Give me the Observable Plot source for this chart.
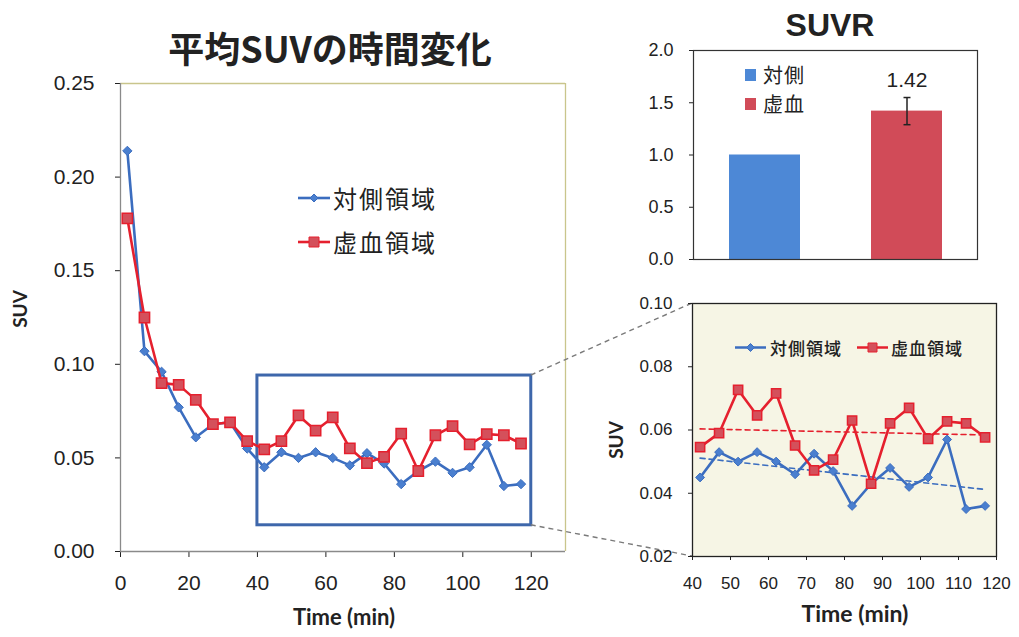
<!DOCTYPE html>
<html><head><meta charset="utf-8">
<script src="https://cdn.jsdelivr.net/npm/d3@7"></script>
<script src="https://cdn.jsdelivr.net/npm/@observablehq/plot@0.6"></script>
<style>
body{margin:0;background:#fff;}
#root{position:relative;width:1019px;height:637px;overflow:hidden;background:#fff;font-family:"Liberation Sans",Arial,sans-serif;color:#222;}
.abs{position:absolute;white-space:nowrap;line-height:1;}
.cjk{font-family:"Noto Sans CJK JP",sans-serif;}
.lab{font-family:Lato,"Open Sans",sans-serif;font-weight:700;}
</style></head><body><div id="root"></div>
<script>
// ---- data ----
const times = [2, 7, 12, 17, 22, 27, 32, 37, 42, 47, 52, 57, 62, 67, 72, 77, 82, 87, 92, 97, 102, 107, 112, 117];
const contraSUV = [0.214, 0.107, 0.096, 0.077, 0.061, 0.068, 0.069, 0.055, 0.045, 0.053, 0.050, 0.053, 0.050, 0.046, 0.0525, 0.047, 0.036, 0.043, 0.048, 0.042, 0.045, 0.057, 0.035, 0.036];
const ischSUV  = [0.178, 0.125, 0.090, 0.089, 0.081, 0.068, 0.069, 0.059, 0.0546, 0.059, 0.0727, 0.0646, 0.0716, 0.0551, 0.0472, 0.0506, 0.063, 0.043, 0.0621, 0.067, 0.0572, 0.0627, 0.0621, 0.0577];
const seriesNames = ["対側領域", "虚血領域"];
const leftXTicks = [0, 20, 40, 60, 80, 100, 120];
const leftYTicks = [0, 0.05, 0.10, 0.15, 0.20, 0.25];
const zoomX = [40, 120];
const zoomY = [0.014, 0.094];
const rightXTicks = [40, 50, 60, 70, 80, 90, 100, 110, 120];
const rightYTicks = [0.02, 0.04, 0.06, 0.08, 0.10];
const suvrCats = ["対側", "虚血"];
const suvrValues = [1.0, 1.42];
const suvrErrLo = [null, 1.29];
const suvrErrHi = [null, 1.55];
const suvrYTicks = [0, 0.5, 1.0, 1.5, 2.0];

// ---- styles ----
const W = 1019, H = 637;
const blueLine = "#3b6dbf", blueFill = "#4a7fcf";
const redLine = "#e5202e", redFill = "#d4505b";
const barBlue = "#4d88d6", barRed = "#d14b58";
const root = document.getElementById("root");
const baseStyle = {position: "absolute", left: "0px", top: "0px", background: "transparent", overflow: "visible", fontFamily: "'Liberation Sans', Arial, sans-serif", color: "#222"};

const rows = times.map((t, i) => ({t, contra: contraSUV[i], isch: ischSUV[i]}));
const rowsZoom = rows.filter(d => d.t >= zoomX[0]);

// ---- left chart ----
const leftPlot = Plot.plot({
  width: W, height: H,
  marginLeft: 120, marginRight: W - 565, marginTop: 83, marginBottom: H - 551,
  style: {...baseStyle, fontSize: "21px"},
  x: {domain: [0, 130], ticks: leftXTicks, tickSize: 6, tickPadding: 18, label: null},
  y: {domain: [0, 0.25], ticks: leftYTicks, tickFormat: d3.format(".2f"), tickSize: 5, tickPadding: 21, label: null},
  marks: [
    Plot.ruleY([0.25], {stroke: "#c9c58c", strokeWidth: 1.3}),
    Plot.ruleX([130], {stroke: "#c9c58c", strokeWidth: 1.3}),
    Plot.ruleX([0], {stroke: "#8a8a8a", strokeWidth: 1.3}),
    Plot.ruleY([0], {stroke: "#8a8a8a", strokeWidth: 1.3}),
    Plot.rect([{x1: zoomX[0], x2: zoomX[1], y1: zoomY[0], y2: zoomY[1]}], {x1: "x1", x2: "x2", y1: "y1", y2: "y2", fill: "none", stroke: "#3e67ab", strokeWidth: 3}),
    Plot.line(rows, {x: "t", y: "contra", stroke: blueLine, strokeWidth: 2.6}),
    Plot.dot(rows, {x: "t", y: "contra", symbol: "diamond2", r: 4.2, fill: blueFill, stroke: blueLine, strokeWidth: 1}),
    Plot.line(rows, {x: "t", y: "isch", stroke: redLine, strokeWidth: 2.6}),
    Plot.dot(rows, {x: "t", y: "isch", symbol: "square", r: 5.8, fill: redFill, stroke: redLine, strokeWidth: 1.5})
  ]
});
root.appendChild(leftPlot);

// ---- SUVR bar chart ----
const suvrRows = suvrCats.map((c, i) => ({cat: c, value: suvrValues[i], lo: suvrErrLo[i], hi: suvrErrHi[i], color: i === 0 ? barBlue : barRed}));
const errRows = suvrRows.filter(d => d.lo != null);
const caps = errRows.flatMap(d => [{cat: d.cat, v: d.lo}, {cat: d.cat, v: d.hi}]);
const capSymbol = {draw(ctx, size) { const w = Math.sqrt(size / Math.PI); ctx.moveTo(-w, 0); ctx.lineTo(w, 0); }};
const barPlot = Plot.plot({
  width: W, height: H,
  marginLeft: 693, marginRight: W - 977, marginTop: 50, marginBottom: H - 259,
  style: {...baseStyle, fontSize: "18px"},
  x: {type: "band", domain: suvrCats, paddingInner: 0.5, paddingOuter: 0.25, axis: null},
  y: {domain: [0, 2], ticks: suvrYTicks, tickFormat: d3.format(".1f"), tickSize: 4, tickPadding: 16, label: null},
  color: {type: "identity"},
  marks: [
    Plot.barY(suvrRows, {x: "cat", y: "value", fill: "color"}),
    Plot.frame({stroke: "#333", strokeWidth: 1.2}),
    Plot.ruleX(errRows, {x: "cat", y1: "lo", y2: "hi", stroke: "#222", strokeWidth: 1.5}),
    Plot.dot(caps, {x: "cat", y: "v", symbol: capSymbol, r: 3.5, stroke: "#222", strokeWidth: 1.5, fill: "none"}),
    Plot.text(errRows, {x: "cat", y: "hi", text: d => d.value.toFixed(2), dy: -17, fontSize: 21, fill: "#222"})
  ]
});
root.appendChild(barPlot);

// ---- right zoomed chart ----
const rightPlot = Plot.plot({
  width: W, height: H,
  marginLeft: 692, marginRight: W - 996, marginTop: 303, marginBottom: H - 556,
  style: {...baseStyle, fontSize: "17px"},
  x: {domain: [40, 120], ticks: rightXTicks, tickSize: 4, tickPadding: 16, label: null},
  y: {domain: [0.02, 0.10], ticks: rightYTicks, tickFormat: d3.format(".2f"), tickSize: 4, tickPadding: 16, label: null},
  marks: [
    Plot.frame({fill: "#f6f5e5", stroke: "#222", strokeWidth: 1.3}),
    Plot.linearRegressionY(rowsZoom, {x: "t", y: "isch", stroke: redLine, strokeWidth: 1.6, strokeDasharray: "5,4", ci: 0}),
    Plot.linearRegressionY(rowsZoom, {x: "t", y: "contra", stroke: blueLine, strokeWidth: 1.6, strokeDasharray: "5,4", ci: 0}),
    Plot.line(rowsZoom, {x: "t", y: "contra", stroke: blueLine, strokeWidth: 2.6}),
    Plot.dot(rowsZoom, {x: "t", y: "contra", symbol: "diamond2", r: 4, fill: blueFill, stroke: blueLine, strokeWidth: 1}),
    Plot.line(rowsZoom, {x: "t", y: "isch", stroke: redLine, strokeWidth: 2.6}),
    Plot.dot(rowsZoom, {x: "t", y: "isch", symbol: "square", r: 5.2, fill: redFill, stroke: redLine, strokeWidth: 1.5})
  ]
});

// ---- connectors (from scales) ----
function mapper(s) {
  if (s && typeof s.apply === "function") return v => s.apply(v);
  return v => s.range[0] + (v - s.domain[0]) / (s.domain[1] - s.domain[0]) * (s.range[1] - s.range[0]);
}
const lx = mapper(leftPlot.scale("x")), ly = mapper(leftPlot.scale("y"));
const rx = mapper(rightPlot.scale("x")), ry = mapper(rightPlot.scale("y"));
const conn = d3.create("svg").attr("width", W).attr("height", H)
  .style("position", "absolute").style("left", "0px").style("top", "0px");
const rYd = rightPlot.scale("y").domain;
[[zoomY[1], rYd[1]], [zoomY[0], rYd[0]]].forEach(([a, b]) => {
  conn.append("line")
    .attr("x1", lx(zoomX[1])).attr("y1", ly(a))
    .attr("x2", rx(zoomX[0])).attr("y2", ry(b))
    .attr("stroke", "#7a7a7a").attr("stroke-width", 1.4).attr("stroke-dasharray", "5,4");
});
root.appendChild(conn.node());
root.appendChild(rightPlot);

// ---- texts ----
function addText(txt, x, y, cls, css, rotate) {
  const d = document.createElement("div");
  d.className = "abs " + cls;
  d.textContent = txt;
  d.style.left = x + "px"; d.style.top = y + "px";
  d.style.transform = "translate(-50%,-50%)" + (rotate ? " rotate(-90deg)" : "");
  Object.assign(d.style, css);
  root.appendChild(d);
}
addText("平均SUVの時間変化", 330, 47, "cjk", {fontSize: "36px", fontWeight: "700"});
addText("SUVR", 830, 25, "", {fontSize: "32px", fontWeight: "700"});
addText("SUV", 19, 309, "lab", {fontSize: "19px"}, true);
addText("Time (min)", 344, 617, "lab", {fontSize: "22px"});
addText("SUV", 615, 440, "lab", {fontSize: "19px"}, true);
addText("Time (min)", 855, 613, "lab", {fontSize: "23px"});

// ---- legends ----
function swatchLine(kind, color, fill, lineW, size) {
  const ns = "http://www.w3.org/2000/svg";
  const s = document.createElementNS(ns, "svg");
  s.setAttribute("width", lineW); s.setAttribute("height", 14);
  s.style.display = "block";
  const l = document.createElementNS(ns, "line");
  l.setAttribute("x1", 0); l.setAttribute("x2", lineW); l.setAttribute("y1", 7); l.setAttribute("y2", 7);
  l.setAttribute("stroke", color); l.setAttribute("stroke-width", 2.6);
  s.appendChild(l);
  const p = document.createElementNS(ns, "path");
  const c = lineW / 2;
  if (kind === "diamond") p.setAttribute("d", `M${c},${7 - size}L${c + size},7L${c},${7 + size}L${c - size},7Z`);
  else p.setAttribute("d", `M${c - size},${7 - size}h${2 * size}v${2 * size}h${-2 * size}Z`);
  p.setAttribute("fill", fill); p.setAttribute("stroke", color);
  s.appendChild(p);
  return s;
}
function legendItem(x, y, swatch, label, fontSize, gap, weight, spacing) {
  const d = document.createElement("div");
  d.className = "abs cjk";
  d.style.left = x + "px"; d.style.top = y + "px";
  d.style.transform = "translateY(-50%)";
  d.style.display = "flex"; d.style.alignItems = "center";
  d.style.fontSize = fontSize + "px";
  if (weight) d.style.fontWeight = weight;
  d.appendChild(swatch);
  const t = document.createElement("span");
  t.textContent = label; t.style.marginLeft = gap + "px";
  if (spacing) t.style.letterSpacing = spacing + "px";
  d.appendChild(t);
  root.appendChild(d);
}
legendItem(298, 198, swatchLine("diamond", blueLine, blueFill, 32, 4), seriesNames[0], 24, 3, null, 2);
legendItem(298, 242, swatchLine("square", redLine, redFill, 32, 5), seriesNames[1], 24, 3, null, 2);
legendItem(735, 347, swatchLine("diamond", blueLine, blueFill, 31, 4), seriesNames[0], 17, 4, "500", 1);
legendItem(857, 347, swatchLine("square", redLine, redFill, 31, 4.5), seriesNames[1], 17, 3, "500", 1);
function squareSwatch(color) {
  const s = document.createElement("div");
  s.style.width = "11px"; s.style.height = "12px"; s.style.background = color;
  return s;
}
legendItem(745, 75, squareSwatch(barBlue), suvrCats[0], 20, 7, null, 1);
legendItem(745, 104, squareSwatch(barRed), suvrCats[1], 20, 7, null, 1);
</script></body></html>
